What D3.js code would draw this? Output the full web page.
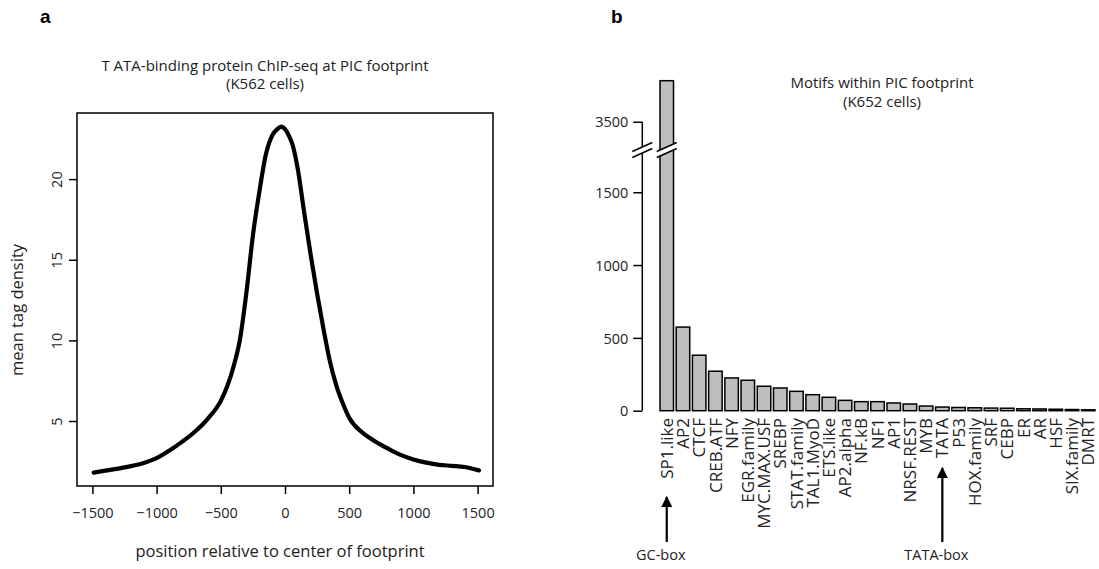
<!DOCTYPE html>
<html>
<head>
<meta charset="utf-8">
<script src="https://cdn.jsdelivr.net/npm/d3@7"></script>
<style>
  body { margin: 0; background: #fff; }
  svg text { font-family: "Open Sans", sans-serif; fill: #222; }
</style>
</head>
<body>
<div id="chart"></div>
<script>
// panel a: TBP ChIP-seq profile
const positions = [-1490, -1400, -1300, -1200, -1100, -1000, -900, -800, -700, -600, -500, -450, -400, -350,
  -300, -250, -200, -150, -100, -60, -30, 0, 30, 60, 100, 150, 200, 250, 300, 350, 400, 450, 500,
  600, 700, 800, 900, 1000, 1100, 1200, 1300, 1400, 1510];
const density = [1.80, 1.92, 2.05, 2.20, 2.40, 2.70, 3.17, 3.72, 4.35, 5.15, 6.25, 7.15, 8.4, 10.1,
  13.0, 16.5, 19.2, 21.5, 22.7, 23.1, 23.25, 23.1, 22.7, 22.1, 20.6, 17.9, 15.3, 12.9, 10.7, 8.7, 7.2, 6.1, 5.2,
  4.3, 3.75, 3.3, 2.9, 2.62, 2.42, 2.28, 2.22, 2.15, 1.94];
const xTicksA = [-1500, -1000, -500, 0, 500, 1000, 1500];
const yTicksA = [5, 10, 15, 20];

// panel b: motif counts
const motifs = ["SP1.like", "AP2", "CTCF", "CREB.ATF", "NFY", "EGR.family", "MYC.MAX.USF", "SREBP",
  "STAT.family", "TAL1.MyoD", "ETS.like", "AP2.alpha", "NF.kB", "NF1", "AP1", "NRSF.REST", "MYB", "TATA",
  "P53", "HOX.family", "SRF", "CEBP", "ER", "AR", "HSF", "SIX.family", "DMRT"];
const motifCounts = [3782, 574, 381, 271, 225, 209, 168, 156, 133, 110, 92, 71, 62, 62, 53, 46, 32, 25,
  22, 20, 18, 17, 13, 12, 10, 8, 6];
const yTicksB = [0, 500, 1000, 1500, 3500];
const axisBreak = [1790, 3306];   // values hidden by the broken axis
const arrows = [{ motif: "SP1.like", label: "GC-box" }, { motif: "TATA", label: "TATA-box" }];

const svg = d3.select("#chart").append("svg")
  .attr("width", 1099)
  .attr("height", 569);

svg.append("rect").attr("width", 1099).attr("height", 569).attr("fill", "#fff");

// panel letters
svg.append("text").attr("x", 40).attr("y", 23)
  .style("font-family", "Liberation Sans, Arial, sans-serif")
  .style("font-weight", "bold").style("font-size", "19px").style("fill", "#000").text("a");
svg.append("text").attr("x", 611).attr("y", 23)
  .style("font-family", "Liberation Sans, Arial, sans-serif")
  .style("font-weight", "bold").style("font-size", "19px").style("fill", "#000").text("b");

// ---------- panel a ----------
const boxA = { left: 77, right: 493, top: 113, bottom: 486 };

const xA = d3.scaleLinear().domain([-1620, 1620]).range([boxA.left, boxA.right]);
const yA = d3.scaleLinear().domain([0.97, 24.1]).range([boxA.bottom, boxA.top]);

const gA = svg.append("g");

gA.append("rect")
  .attr("x", boxA.left).attr("y", boxA.top)
  .attr("width", boxA.right - boxA.left).attr("height", boxA.bottom - boxA.top)
  .attr("fill", "none").attr("stroke", "#000").attr("stroke-width", 1.5);

const lineA = d3.line()
  .x((d, i) => xA(positions[i]))
  .y(d => yA(d))
  .curve(d3.curveMonotoneX);

gA.append("path")
  .datum(density)
  .attr("fill", "none")
  .attr("stroke", "#000")
  .attr("stroke-width", 4.2)
  .attr("stroke-linecap", "round")
  .attr("stroke-linejoin", "round")
  .attr("d", lineA);

// X axis
const xAxisA = gA.append("g")
  .attr("transform", `translate(0,${boxA.bottom})`)
  .call(d3.axisBottom(xA).tickValues(xTicksA).tickSize(8).tickSizeOuter(0).tickFormat(d3.format("d")));
xAxisA.select(".domain").remove();
xAxisA.selectAll(".tick line").attr("stroke", "#000").attr("stroke-width", 1.5);
xAxisA.selectAll(".tick text")
  .attr("y", 32).attr("dy", 0)
  .style("font-size", "14.5px")
  .text(d => d < 0 ? "\u2212" + Math.abs(d) : d);

gA.append("text")
  .attr("x", 280).attr("y", 557)
  .attr("text-anchor", "middle")
  .style("font-size", "16.5px")
  .text("position relative to center of footprint");

// Y axis
const yAxisA = gA.append("g")
  .attr("transform", `translate(${boxA.left},0)`)
  .call(d3.axisLeft(yA).tickValues(yTicksA).tickSize(8).tickSizeOuter(0));
yAxisA.select(".domain").remove();
yAxisA.selectAll(".tick line").attr("stroke", "#000").attr("stroke-width", 1.5);
yAxisA.selectAll(".tick text")
  .attr("transform", "rotate(-90)")
  .attr("x", 0).attr("y", -15).attr("dy", 0)
  .attr("text-anchor", "middle")
  .style("font-size", "14.5px");

gA.append("text")
  .attr("transform", "translate(23,310) rotate(-90)")
  .attr("text-anchor", "middle")
  .style("font-size", "16.5px")
  .text("mean tag density");

// title
gA.append("text").attr("x", 265).attr("y", 71).attr("text-anchor", "middle")
  .style("font-size", "15px").text("T ATA-binding protein ChIP-seq at PIC footprint");
gA.append("text").attr("x", 265).attr("y", 89).attr("text-anchor", "middle")
  .style("font-size", "15px").text("(K562 cells)");

// ---------- panel b ----------
const zeroY = 410.7;
const breakY = 150;
const k = (zeroY - 192.3) / 1500;  // px per count on the lower segment

const xB = d3.scaleBand()
  .domain(motifs)
  .range([660, 1095])
  .paddingInner(0.2 / 1.2)
  .paddingOuter(0);

const yB = d3.scaleLinear()
  .domain([0, axisBreak[0], axisBreak[1], 4000])
  .range([zeroY, breakY, breakY, breakY - (4000 - axisBreak[1]) * k]);

const gB = svg.append("g");

gB.selectAll("rect.bar")
  .data(motifs)
  .enter()
  .append("rect")
  .attr("class", "bar")
  .attr("x", d => xB(d))
  .attr("width", xB.bandwidth())
  .attr("y", (d, i) => yB(motifCounts[i]))
  .attr("height", (d, i) => zeroY - yB(motifCounts[i]))
  .attr("fill", "#bebebe")
  .attr("stroke", "#000")
  .attr("stroke-width", 1.5);

// Y axis with a break
const axisX = 642.3;
const yAxisB = gB.append("g")
  .attr("transform", `translate(${axisX},0)`)
  .call(d3.axisLeft(yB).tickValues(yTicksB).tickSize(9).tickPadding(5).tickSizeOuter(0)
    .tickFormat(d3.format("d")));
yAxisB.select(".domain").remove();
yAxisB.selectAll(".tick line").attr("stroke", "#000").attr("stroke-width", 1.5);
yAxisB.selectAll(".tick text").style("font-size", "14.5px").attr("dy", "0.36em");

gB.append("line")
  .attr("x1", axisX).attr("x2", axisX)
  .attr("y1", yB(0)).attr("y2", yB(3500))
  .attr("stroke", "#000").attr("stroke-width", 1.5);

// break slashes on axis and on the tall bar
const breakXs = [axisX, xB(motifs[0]) + xB.bandwidth() / 2];
breakXs.forEach(cx => {
  const w = 10, dy = 4.5, s = 6;
  gB.append("polygon")
    .attr("points", [
      [cx - w, breakY + dy + s / 2], [cx + w, breakY - dy + s / 2],
      [cx + w, breakY - dy - s / 2], [cx - w, breakY + dy - s / 2]
    ].map(p => p.join(",")).join(" "))
    .attr("fill", "#fff");
  [-s / 2, s / 2].forEach(o => {
    gB.append("line")
      .attr("x1", cx - w).attr("y1", breakY + dy + o)
      .attr("x2", cx + w).attr("y2", breakY - dy + o)
      .attr("stroke", "#000").attr("stroke-width", 1.5);
  });
});

// motif labels
gB.selectAll("text.motif")
  .data(motifs)
  .enter()
  .append("text")
  .attr("class", "motif")
  .attr("transform", d => `translate(${xB(d) + xB.bandwidth() / 2},418) rotate(-90)`)
  .attr("text-anchor", "end")
  .attr("dy", "0.36em")
  .style("font-size", "17px")
  .text(d => d);

// arrows
const defs = svg.append("defs");
defs.append("marker")
  .attr("id", "arrowhead")
  .attr("viewBox", "0 0 10 10")
  .attr("refX", 9).attr("refY", 5)
  .attr("markerWidth", 11).attr("markerHeight", 11)
  .attr("markerUnits", "userSpaceOnUse")
  .attr("orient", "auto")
  .append("path")
  .attr("d", "M0,0 L10,5 L0,10 Z")
  .attr("fill", "#000");

const arrowTop = { "GC-box": 497, "TATA-box": 468 };
arrows.forEach(a => {
  const cx = xB(a.motif) + xB.bandwidth() / 2;
  gB.append("line")
    .attr("x1", cx).attr("x2", cx)
    .attr("y1", 542).attr("y2", arrowTop[a.label])
    .attr("stroke", "#000").attr("stroke-width", 2.2)
    .attr("marker-end", "url(#arrowhead)");
  gB.append("text")
    .attr("x", cx - 6)
    .attr("y", 560)
    .attr("text-anchor", "middle")
    .style("font-size", "14.5px")
    .text(a.label);
});

// title
gB.append("text").attr("x", 882).attr("y", 88).attr("text-anchor", "middle")
  .style("font-size", "15px").text("Motifs within PIC footprint");
gB.append("text").attr("x", 882).attr("y", 107).attr("text-anchor", "middle")
  .style("font-size", "15px").text("(K652 cells)");
</script>
</body>
</html>
